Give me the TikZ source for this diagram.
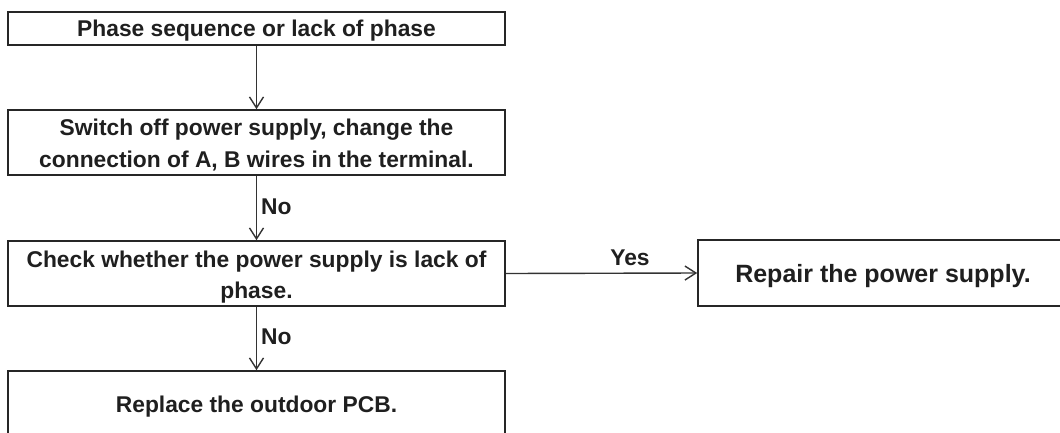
\documentclass[tikz,border=0pt]{standalone}
\usepackage{fontspec}
\setmainfont{Liberation Sans}
\usetikzlibrary{arrows.meta}
\begin{document}
\begin{tikzpicture}[x=1pt,y=1pt,
  box/.style={draw=black!85, line width=1.6pt, inner sep=0pt},
  txt/.style={anchor=base, inner sep=0pt, text=black!88, font=\bfseries\fontsize{22.8}{26}\selectfont},
  lbl/.style={anchor=base west, inner sep=0pt, text=black!88, font=\bfseries\fontsize{22.8}{26}\selectfont},
  conn/.style={draw=black!80, line width=1.4pt, -{Straight Barb[length=11pt,width=14pt,line width=1.4pt]}}]
\useasboundingbox (0,0) rectangle (1060,-432);
\begin{scope}
\clip (0,0) rectangle (1060,-432);
\node[box, minimum width=497pt, minimum height=33pt] (b1) at (256.5,-28.5) {};
\node[box, minimum width=497pt, minimum height=65pt] (b2) at (256.5,-142.5) {};
\node[box, minimum width=497pt, minimum height=65pt] (b3) at (256.5,-273.5) {};
\node[box, minimum width=497pt, minimum height=75pt] (b4) at (256.5,-408.5) {};
\node[box, minimum width=370pt, minimum height=66pt] (b5) at (883,-273) {};
\end{scope}
\node[txt] (t1) at (256.5,-36) {Phase sequence or lack of phase};
\node[txt] (t2a) at (256.5,-135) {Switch off power supply, change the};
\node[txt] (t2b) at (256.5,-167) {connection of A, B wires in the terminal.};
\node[txt] (t3a) at (256.5,-267) {Check whether the power supply is lack of};
\node[txt] (t3b) at (256.5,-298) {phase.};
\node[txt] (t4) at (256.5,-412) {Replace the outdoor PCB.};
\node[txt, font=\bfseries\fontsize{25}{28}\selectfont] (t5) at (883,-282) {Repair the power supply.};
\draw[conn] (b1.south) -- (b2.north);
\draw[conn] (b2.south) -- (b3.north) node[lbl, pos=0.6, xshift=4pt] (n1) {No};
\draw[conn] (b3.south) -- (b4.north) node[lbl, pos=0.6, xshift=4pt] (n2) {No};
\draw[conn] (b3.east) -- (b5.west);
\node[txt] (yes) at (630,-265) {Yes};
\end{tikzpicture}
\end{document}
